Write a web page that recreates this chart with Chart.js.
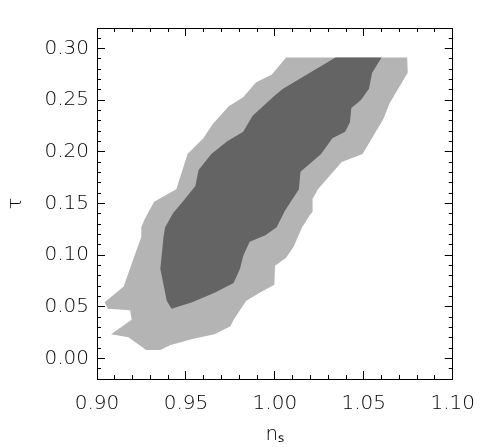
<!DOCTYPE html>
<html>
<head>
<meta charset="utf-8">
<script src="https://cdn.jsdelivr.net/npm/chart.js@4.4.1/dist/chart.umd.min.js"></script>
<style>
html,body{margin:0;padding:0;background:#fff;}
canvas{display:block;}
</style>
</head>
<body>
<canvas id="c" width="496" height="447"></canvas>
<script>
// Axis ranges and tick steps
const xRange = [0.90, 1.10];
const yRange = [-0.02, 0.32];
const xMajorStep = 0.05, xMinorStep = 0.01;
const yMajorStep = 0.05, yMinorStep = 0.01;

// Outer (lighter) contour, n_s and tau values
const outerNs = [1.0063,1.0744,1.0747,1.0645,1.0610,1.0493,1.0376,1.0242,1.0212,1.0212,1.0198,1.0153,1.0106,1.0063,1.0001,0.9997,0.9929,0.9839,0.9768,0.9750,0.9661,0.9535,0.9410,0.9356,0.9276,0.9177,0.9079,0.9195,0.9186,0.9061,0.9043,0.9150,0.9204,0.9249,0.9249,0.9267,0.9321,0.9446,0.9509,0.9598,0.9651,0.9741,0.9822,0.9893,0.9983,1.0063];
const outerTau = [0.2914,0.2914,0.2766,0.2472,0.2318,0.1979,0.1901,0.1639,0.1546,0.1417,0.1392,0.1269,0.1083,0.0975,0.0898,0.0713,0.0651,0.0558,0.0373,0.0312,0.0234,0.0188,0.0127,0.0081,0.0081,0.0204,0.0234,0.0373,0.0466,0.0481,0.0543,0.0697,0.0960,0.1176,0.1269,0.1345,0.1516,0.1639,0.1979,0.2132,0.2271,0.2442,0.2528,0.2673,0.2750,0.2914];

// Inner (darker) contour
const innerNs = [1.0341,1.0600,1.0547,1.0529,1.0484,1.0430,1.0422,1.0395,1.0323,1.0260,1.0144,1.0135,1.0054,1.0010,0.9947,0.9858,0.9822,0.9804,0.9768,0.9661,0.9535,0.9419,0.9392,0.9356,0.9374,0.9383,0.9428,0.9482,0.9553,0.9571,0.9643,0.9732,0.9822,0.9875,1.0001,1.0046,1.0180,1.0341];
const innerTau = [0.2914,0.2914,0.2766,0.2611,0.2503,0.2426,0.2287,0.2194,0.2132,0.1979,0.1808,0.1639,0.1423,0.1269,0.1192,0.1130,0.0991,0.0868,0.0729,0.0636,0.0543,0.0481,0.0558,0.0868,0.1176,0.1269,0.1407,0.1516,0.1669,0.1824,0.1979,0.2102,0.2194,0.2349,0.2549,0.2611,0.2750,0.2914];

const toPts = (xs, ys) => xs.map((x, i) => ({x: x, y: ys[i]}));

const FONT = {family: "'DejaVu Sans', sans-serif", size: 20, weight: 200};
const TXT = '#000';
const LINE = '#000';

function fixW(w){ return function(s){ s.width = w; }; }
function fixH(h){ return function(s){ s.height = h; }; }

function tickGrid(len){
  return {drawOnChartArea:false, drawTicks:true, tickLength:len, tickColor:LINE, tickWidth:1};
}

new Chart(document.getElementById('c'), {
  type: 'scatter',
  data: {
    datasets: [
      {data: toPts(innerNs, innerTau), showLine:true, fill:'shape', backgroundColor:'#646464', borderColor:'rgba(0,0,0,0)', borderWidth:1, pointRadius:0, tension:0, xAxisID:'x', yAxisID:'y'},
      {data: toPts(outerNs, outerTau), showLine:true, fill:'shape', backgroundColor:'#b4b4b4', borderColor:'rgba(0,0,0,0)', borderWidth:1, pointRadius:0, tension:0, xAxisID:'x', yAxisID:'y'}
    ]
  },
  options: {
    responsive:false, animation:false, devicePixelRatio:1,
    layout:{padding:{left:0, top:12, right:27, bottom:0}},
    plugins:{legend:{display:false}, tooltip:{enabled:false}},
    scales:{
      x:{type:'linear', position:'bottom', weight:1, min:xRange[0], max:xRange[1],
         ticks:{stepSize:xMajorStep, includeBounds:false, font:FONT, color:TXT, padding:21, maxRotation:0,
                callback:v=>v.toFixed(2)},
         grid:tickGrid(-8), border:{display:true, color:LINE, width:1},
         title:{display:true, text:'nₛ', font:FONT, color:TXT, padding:{top:0,bottom:0}},
         afterFit:fixH(68)},
      xm:{type:'linear', position:'bottom', weight:0, min:xRange[0], max:xRange[1],
         ticks:{display:false, stepSize:xMinorStep},
         grid:tickGrid(-4), border:{display:true, color:LINE, width:1}, afterFit:fixH(0)},
      xt:{type:'linear', position:'top', weight:1, min:xRange[0], max:xRange[1],
         ticks:{display:false, stepSize:xMajorStep, includeBounds:false},
         grid:tickGrid(-8), border:{display:true, color:LINE, width:1}, afterFit:fixH(0)},
      xtm:{type:'linear', position:'top', weight:0, min:xRange[0], max:xRange[1],
         ticks:{display:false, stepSize:xMinorStep},
         grid:tickGrid(-4), border:{display:true, color:LINE, width:1}, afterFit:fixH(0)},
      y:{type:'linear', position:'left', weight:1, min:yRange[0], max:yRange[1],
         ticks:{stepSize:yMajorStep, includeBounds:false, font:FONT, color:TXT, padding:16,
                callback:v=>(Math.abs(v)<1e-9?0:v).toFixed(2)},
         grid:tickGrid(-8), border:{display:true, color:LINE, width:1},
         title:{display:true, text:'τ', font:FONT, color:TXT, padding:{top:4,bottom:0}},
         afterFit:fixW(97)},
      ym:{type:'linear', position:'left', weight:0, min:yRange[0], max:yRange[1],
         ticks:{display:false, stepSize:yMinorStep},
         grid:tickGrid(-4), border:{display:true, color:LINE, width:1}, afterFit:fixW(0)},
      yr:{type:'linear', position:'right', weight:1, min:yRange[0], max:yRange[1],
         ticks:{display:false, stepSize:yMajorStep, includeBounds:false},
         grid:tickGrid(-8), border:{display:true, color:LINE, width:1}, afterFit:fixW(0)},
      yrm:{type:'linear', position:'right', weight:0, min:yRange[0], max:yRange[1],
         ticks:{display:false, stepSize:yMinorStep},
         grid:tickGrid(-4), border:{display:true, color:LINE, width:1}, afterFit:fixW(0)}
    }
  }
});
</script>
</body>
</html>
